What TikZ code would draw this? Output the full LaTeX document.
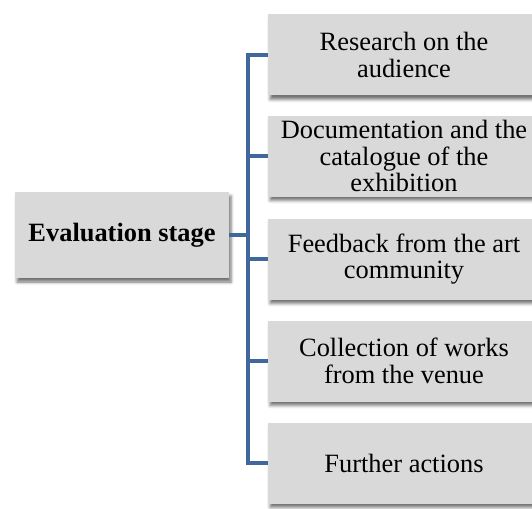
\documentclass[tikz,border=0pt]{standalone}
\usepackage{fontspec}
\setmainfont{Liberation Serif}
\usetikzlibrary{shadows.blur}
\definecolor{boxgray}{HTML}{D9D9D9}
\definecolor{linkblue}{HTML}{41689D}
\tikzset{
  stagebox/.style={fill=boxgray, draw=none, align=center, inner sep=0pt,
    font=\fontsize{26.4}{26.5}\selectfont,
    blur shadow={shadow xshift=2pt, shadow yshift=-4pt, shadow blur radius=3pt, shadow opacity=55}},
  mainbox/.style={stagebox, minimum width=214pt, minimum height=86pt, font=\fontsize{26.4}{26.5}\selectfont\bfseries},
  subbox/.style={stagebox, minimum width=272pt, minimum height=81pt},
  link/.style={draw=linkblue, line width=4pt}
}
\begin{document}
\begin{tikzpicture}[x=1pt,y=-1pt]
\useasboundingbox (0,0) rectangle (532,508);
\node[mainbox] (main) at (122,235) {Evaluation stage};
\node[subbox] (r1) at (404,55) {Research on the\\audience};
\node[subbox] (r2) at (404,156) {Documentation and the\\catalogue of the\\exhibition};
\node[subbox] (r3) at (404,259) {Feedback from the art\\community};
\node[subbox] (r4) at (404,361) {Collection of works\\from the venue};
\node[subbox] (r5) at (404,463) {Further actions};
\coordinate (sp) at (248,0);
\draw[link] (r1.west) -- (r1.west -| sp) -- (r5.west -| sp) -- (r5.west);
\draw[link] (r2.west) -- (r2.west -| sp);
\draw[link] (r3.west) -- (r3.west -| sp);
\draw[link] (r4.west) -- (r4.west -| sp);
\draw[link] (main.east) -- (main.east -| sp);
\end{tikzpicture}
\end{document}
